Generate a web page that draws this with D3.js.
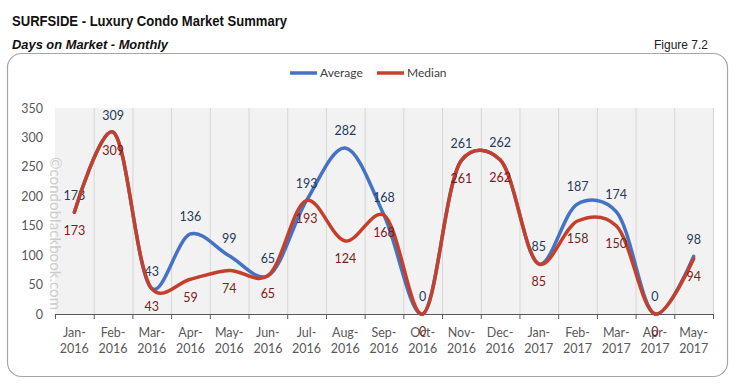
<!DOCTYPE html>
<html>
<head>
<meta charset="utf-8">
<script src="https://cdn.jsdelivr.net/npm/d3@7"></script>
<style>
  body { margin: 0; background: #fff; }
  svg { display: block; }
</style>
</head>
<body>
<div id="chart"></div>
<script>
const months = ['Jan-2016', 'Feb-2016', 'Mar-2016', 'Apr-2016', 'May-2016', 'Jun-2016',
    'Jul-2016', 'Aug-2016', 'Sep-2016', 'Oct-2016', 'Nov-2016', 'Dec-2016',
    'Jan-2017', 'Feb-2017', 'Mar-2017', 'Apr-2017', 'May-2017'];
const average = [173, 309, 43, 136, 99, 65, 193, 282, 168, 0, 261, 262, 85, 187, 174, 0, 98];
const median = [173, 309, 43, 59, 74, 65, 193, 124, 168, 0, 261, 262, 85, 158, 150, 0, 94];
const yTicks = [0, 50, 100, 150, 200, 250, 300, 350];

const width = 740;
const height = 386;
const plot = {left: 55, right: 713, top: 108, bottom: 314};

const svg = d3.select('#chart').append('svg')
    .attr('width', width)
    .attr('height', height);

const x = d3.scaleBand().domain(months).range([plot.left, plot.right]);
const y = d3.scaleLinear().domain([0, 350]).range([plot.bottom, plot.top]);
const cx = d => x(d) + x.bandwidth() / 2;

drawHeader();
drawPlot();
drawSeries(average, '#4472c4', '#263a5c', -17);
drawSeries(median, '#c5402a', '#7e1b1b', 18);
drawLegend();

function drawHeader() {
    svg.append('text')
        .attr('x', 12)
        .attr('y', 26)
        .attr('textLength', 275)
        .attr('lengthAdjust', 'spacingAndGlyphs')
        .style('font-family', '"Liberation Sans", Arial, sans-serif')
        .style('font-size', '15px')
        .style('font-weight', 'bold')
        .style('fill', '#111')
        .text('SURFSIDE - Luxury Condo Market Summary');

    svg.append('text')
        .attr('x', 12)
        .attr('y', 49)
        .attr('textLength', 156)
        .attr('lengthAdjust', 'spacingAndGlyphs')
        .style('font-family', '"Liberation Sans", Arial, sans-serif')
        .style('font-size', '13px')
        .style('font-weight', 'bold')
        .style('font-style', 'italic')
        .style('fill', '#111')
        .text('Days on Market - Monthly');

    svg.append('text')
        .attr('x', 708)
        .attr('y', 49)
        .attr('text-anchor', 'end')
        .style('font-family', '"Liberation Sans", Arial, sans-serif')
        .style('font-size', '12px')
        .style('fill', '#222')
        .text('Figure 7.2');

    // rounded frame around the chart
    svg.append('rect')
        .attr('x', 7.5)
        .attr('y', 53.5)
        .attr('width', 720)
        .attr('height', 323)
        .attr('rx', 14)
        .style('fill', 'none')
        .style('stroke', '#a6a6a6')
        .style('stroke-width', 1.2);
}

function drawPlot() {
    svg.append('rect')
        .attr('x', plot.left)
        .attr('y', plot.top)
        .attr('width', plot.right - plot.left)
        .attr('height', plot.bottom - plot.top)
        .style('fill', '#f2f2f2');

    const bounds = months.map(m => x(m)).concat([plot.right]);

    svg.append('g').selectAll('line')
        .data(bounds.slice(1))
        .join('line')
        .attr('x1', d => d + 0.5)
        .attr('x2', d => d + 0.5)
        .attr('y1', plot.top)
        .attr('y2', plot.bottom)
        .style('stroke', '#d6d6d6')
        .style('stroke-width', 1);

    // watermark
    svg.append('text')
        .attr('transform', 'translate(50,157) rotate(90)')
        .attr('textLength', 153)
        .style('font-family', 'Lato, sans-serif')
        .style('font-size', '15px')
        .style('fill', '#cdcdcd')
        .text('\u00a9condoblackbook.com');

    const yAxis = svg.append('g')
        .attr('transform', `translate(${plot.left},0)`)
        .call(d3.axisLeft(y).tickValues(yTicks).tickSize(0).tickPadding(12));
    yAxis.select('.domain').remove();
    yAxis.selectAll('text')
        .style('font-family', 'Lato, sans-serif')
        .style('font-size', '12.5px')
        .style('fill', '#595959');

    const xAxis = svg.append('g')
        .attr('transform', `translate(0,${plot.bottom})`)
        .call(d3.axisBottom(x).tickSize(0).tickPadding(0));
    xAxis.select('.domain').remove();
    xAxis.selectAll('text').each(function(d) {
        const parts = d.split('-');
        const t = d3.select(this).text('')
            .attr('y', 0)
            .attr('dy', null)
            .style('font-family', 'Lato, sans-serif')
            .style('font-size', '12.5px')
            .style('fill', '#595959');
        t.append('tspan').attr('x', 0).attr('y', 23).text(parts[0] + '-');
        t.append('tspan').attr('x', 0).attr('y', 39).text(parts[1]);
    });

    svg.append('line')
        .attr('x1', plot.left)
        .attr('x2', plot.right + 1)
        .attr('y1', plot.bottom + 0.5)
        .attr('y2', plot.bottom + 0.5)
        .style('stroke', '#595959')
        .style('stroke-width', 1);

    svg.append('g').selectAll('line')
        .data(bounds)
        .join('line')
        .attr('x1', d => d + 0.5)
        .attr('x2', d => d + 0.5)
        .attr('y1', plot.bottom)
        .attr('y2', plot.bottom + 5)
        .style('stroke', '#595959');
}

function drawSeries(values, color, labelColor, offset) {
    // catmull-rom between uniform and centripetal, closest to the original smoothing
    const line = d3.line()
        .x((d, i) => cx(months[i]))
        .y(d => y(d))
        .curve(d3.curveCatmullRom.alpha(0.25));

    svg.append('path')
        .datum(values)
        .attr('d', line)
        .style('fill', 'none')
        .style('stroke', color)
        .style('stroke-width', 3.5)
        .style('stroke-linecap', 'round');

    svg.append('g').selectAll('text')
        .data(values)
        .join('text')
        .attr('x', (d, i) => cx(months[i]))
        .attr('y', d => y(d) + offset)
        .attr('dy', '0.35em')
        .attr('text-anchor', 'middle')
        .style('font-family', 'Lato, sans-serif')
        .style('font-size', '12.5px')
        .style('fill', labelColor)
        .text(d => d);
}

function drawLegend() {
    const items = [
        {name: 'Average', color: '#4472c4', x: 290},
        {name: 'Median', color: '#c5402a', x: 377}
    ];
    const g = svg.append('g').selectAll('g')
        .data(items)
        .join('g')
        .attr('transform', d => `translate(${d.x},73)`);
    g.append('line')
        .attr('x1', 0)
        .attr('x2', 27)
        .style('stroke', d => d.color)
        .style('stroke-width', 3.5);
    g.append('text')
        .attr('x', 30)
        .attr('dy', '0.35em')
        .style('font-family', 'Lato, sans-serif')
        .style('font-size', '12px')
        .style('fill', '#404040')
        .text(d => d.name);
}
</script>
</body>
</html>
